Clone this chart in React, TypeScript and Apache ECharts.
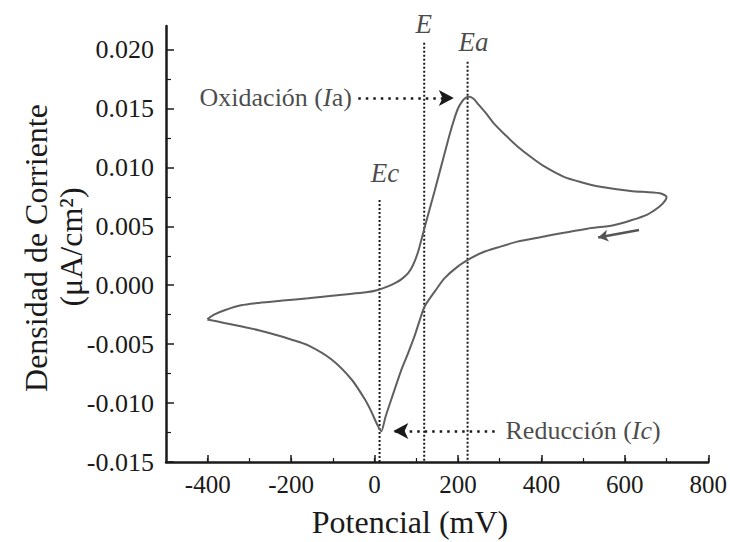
import React, { useEffect, useRef } from "react";
import * as echarts from "echarts";

// ---- data ----
// anodic scan (lower-left tip -> switching potential), potential in mV, current density
const anodicE = [-401, -385, -358, -320, -278, -220, -159, -78, -20, 8, 32, 50, 64, 80, 92, 104, 120, 144, 168, 180, 191, 200, 210, 218, 228, 238, 250, 265, 287, 315, 342, 374, 406, 454, 500, 534, 614, 684, 700];
const anodicI = [-0.0029, -0.0025, -0.0021, -0.0017, -0.0015, -0.0013, -0.0011, -0.0008, -0.0006, -0.0004, -0.0001, 0.0002, 0.0005, 0.001, 0.0017, 0.0028, 0.0049, 0.008, 0.0112, 0.0128, 0.0141, 0.015, 0.0156, 0.0159, 0.016, 0.0158, 0.0153, 0.0147, 0.0137, 0.0127, 0.0118, 0.0109, 0.0101, 0.0092, 0.0087, 0.0084, 0.008, 0.0078, 0.0075];
// cathodic scan (switching potential -> back to the start)
const cathodicE = [697, 684, 654, 614, 573, 510, 454, 400, 342, 295, 260, 231, 200, 168, 145, 120, 108, 96, 80, 64, 40, 26, 16, 6, -8, -23, -55, -103, -159, -200, -238, -280, -318, -360, -401];
const cathodicI = [0.0072, 0.0067, 0.006, 0.0055, 0.0051, 0.0048, 0.00445, 0.0041, 0.0037, 0.0032, 0.0028, 0.0023, 0.0016, 0.0006, -0.0005, -0.0018, -0.003, -0.0043, -0.0058, -0.0072, -0.0097, -0.0112, -0.0124, -0.0118, -0.0107, -0.0097, -0.008, -0.0063, -0.0051, -0.0046, -0.0042, -0.0038, -0.0035, -0.0032, -0.0029];

// characteristic potentials (mV) and the tops of their dotted guide lines
const potentialNames = ["Ec", "E", "Ea"];
const potentialValues = [12, 119, 223];
const guideTops = [0.00724, 0.02057, 0.01896];
const potentialLabelI = [0.00953, 0.02218, 0.02065];
const potentialLabelE = [25, 118, 237];

// peak annotations
const oxidationArrowE = [-39, 190];
const oxidationArrowI = 0.0159;
const reductionArrowE = [288, 45];
const reductionArrowI = -0.01237;
const scanArrowE = [634, 536];
const scanArrowI = [0.00469, 0.00405];
const oxidationLabelPos = [-237, 0.0159];
const reductionLabelPos = [500, -0.0123];

// axes
const xMin = -500;
const xMax = 800;
const xTickValues = [-400, -200, 0, 200, 400, 600, 800];
const xMinorTicks = [-400, -300, -200, -100, 0, 100, 200, 300, 400, 500, 600, 700, 800];
const yMin = -0.015;
const yMax = 0.022;
const yTickValues = [-0.015, -0.01, -0.005, 0, 0.005, 0.01, 0.015, 0.02];
const yMinorTicks = [-0.0125, -0.0075, -0.0025, 0.0025, 0.0075, 0.0125, 0.0175];

const xName = "Potencial (mV)";
const yNameLine1 = "Densidad de Corriente";
const yNameLine2 = "(μA/cm²)";

const FONT = "'Liberation Serif', 'Times New Roman', serif";
const INK = "#1a1a1a";

export default function App() {
  const ref = useRef<HTMLDivElement>(null);

  useEffect(() => {
    if (!ref.current) return;
    const chart = echarts.init(ref.current, undefined, { renderer: "svg" });

    const loop: number[][] = [];
    anodicE.forEach((e, i) => loop.push([e, anodicI[i]]));
    cathodicE.forEach((e, i) => loop.push([e, cathodicI[i]]));

    const guideSeries = potentialValues.map((e, i) => ({
      type: "line",
      name: potentialNames[i],
      data: [
        [e, guideTops[i]],
        [e, yMin],
      ],
      symbol: "none",
      silent: true,
      lineStyle: { color: INK, width: 2, type: [2, 2] },
      z: 1,
    }));

    const richBase = { fontFamily: FONT, fontSize: 26, color: INK };

    const labelData: any[] = [
      {
        value: oxidationLabelPos,
        label: { formatter: "{n|Oxidación (}{i|I}{n|a)}" },
      },
      {
        value: reductionLabelPos,
        label: { formatter: "{n|Reducción (}{i|Ic}{n|)}" },
      },
      ...potentialNames.map((n, i) => ({
        value: [potentialLabelE[i], potentialLabelI[i]],
        label: { formatter: "{b|" + n + "}" },
      })),
    ];

    const dottedArrow = { color: INK, width: 2.5, type: [2.5, 5] };

    chart.setOption({
      animation: false,
      backgroundColor: "#ffffff",
      grid: { left: 166, right: 18, top: 26, bottom: 80 },
      xAxis: [
        {
          type: "value",
          min: xMin,
          max: xMax,
          position: "bottom",
          axisLine: { show: true, onZero: false, lineStyle: { color: INK, width: 2.5 } },
          axisTick: { show: true, inside: true, length: 7, customValues: xTickValues, lineStyle: { color: INK, width: 1.5 } },
          axisLabel: {
            show: true,
            customValues: xTickValues,
            margin: 10,
            color: INK,
            fontFamily: FONT,
            fontSize: 25,
          },
          splitLine: { show: false },
        },
        {
          type: "value",
          min: xMin,
          max: xMax,
          position: "bottom",
          axisLine: { show: false, onZero: false },
          axisTick: { show: true, inside: true, length: 4, customValues: xMinorTicks, lineStyle: { color: INK, width: 1.2 } },
          axisLabel: { show: false },
          splitLine: { show: false },
        },
      ],
      yAxis: [
        {
          type: "value",
          min: yMin,
          max: yMax,
          position: "left",
          axisLine: { show: true, onZero: false, lineStyle: { color: INK, width: 2.5 } },
          axisTick: { show: true, inside: true, length: 8, customValues: yTickValues, lineStyle: { color: INK, width: 1.5 } },
          axisLabel: {
            show: true,
            customValues: yTickValues,
            margin: 12,
            color: INK,
            fontFamily: FONT,
            fontSize: 26,
            formatter: (v: number) => v.toFixed(3),
          },
          splitLine: { show: false },
        },
        {
          type: "value",
          min: yMin,
          max: yMax,
          position: "left",
          axisLine: { show: false, onZero: false },
          axisTick: { show: true, inside: true, length: 5, customValues: yMinorTicks, lineStyle: { color: INK, width: 1.2 } },
          axisLabel: { show: false },
          splitLine: { show: false },
        },
      ],
      graphic: [
        {
          type: "text",
          x: 410,
          y: 522,
          style: { text: xName, font: `32px ${FONT}`, fill: INK, textAlign: "center", textVerticalAlign: "middle" },
        },
        {
          type: "text",
          x: 36,
          y: 248,
          rotation: Math.PI / 2,
          style: { text: yNameLine1, font: `32px ${FONT}`, fill: INK, textAlign: "center", textVerticalAlign: "middle" },
        },
        {
          type: "text",
          x: 71,
          y: 247,
          rotation: Math.PI / 2,
          style: { text: yNameLine2, font: `32px ${FONT}`, fill: INK, textAlign: "center", textVerticalAlign: "middle" },
        },
      ],
      series: [
        ...guideSeries,
        {
          type: "line",
          name: "voltammogram",
          data: loop,
          symbol: "none",
          smooth: 0.25,
          lineStyle: { color: "#5f5f5f", width: 2 },
          z: 3,
          markLine: {
            silent: true,
            animation: false,
            symbol: ["none", "arrow"],
            label: { show: false },
            data: [
              [
                { coord: [oxidationArrowE[0], oxidationArrowI], symbol: "none", lineStyle: dottedArrow },
                { coord: [oxidationArrowE[1], oxidationArrowI], symbol: "arrow", symbolSize: [12, 15] },
              ],
              [
                { coord: [reductionArrowE[0], reductionArrowI], symbol: "none", lineStyle: dottedArrow },
                { coord: [reductionArrowE[1], reductionArrowI], symbol: "arrow", symbolSize: [12, 15] },
              ],
              [
                { coord: [scanArrowE[0], scanArrowI[0]], symbol: "none", lineStyle: { color: "#555", width: 2.5, type: "solid" } },
                { coord: [scanArrowE[1], scanArrowI[1]], symbol: "arrow", symbolSize: [9, 10] },
              ],
            ],
          },
        },
        {
          type: "scatter",
          name: "labels",
          data: labelData,
          symbolSize: 1,
          itemStyle: { color: "rgba(0,0,0,0)" },
          silent: true,
          clip: false,
          z: 5,
          label: {
            show: true,
            position: "inside",
            color: INK,
            rich: {
              n: { ...richBase, fontStyle: "normal" },
              i: { ...richBase, fontStyle: "italic" },
              b: { ...richBase, fontSize: 27, fontStyle: "italic" },
            },
          },
        },
      ],
    });

    return () => chart.dispose();
  }, []);

  return <div ref={ref} style={{ width: 730, height: 542, position: "absolute", left: 0, top: 0 }} />;
}
